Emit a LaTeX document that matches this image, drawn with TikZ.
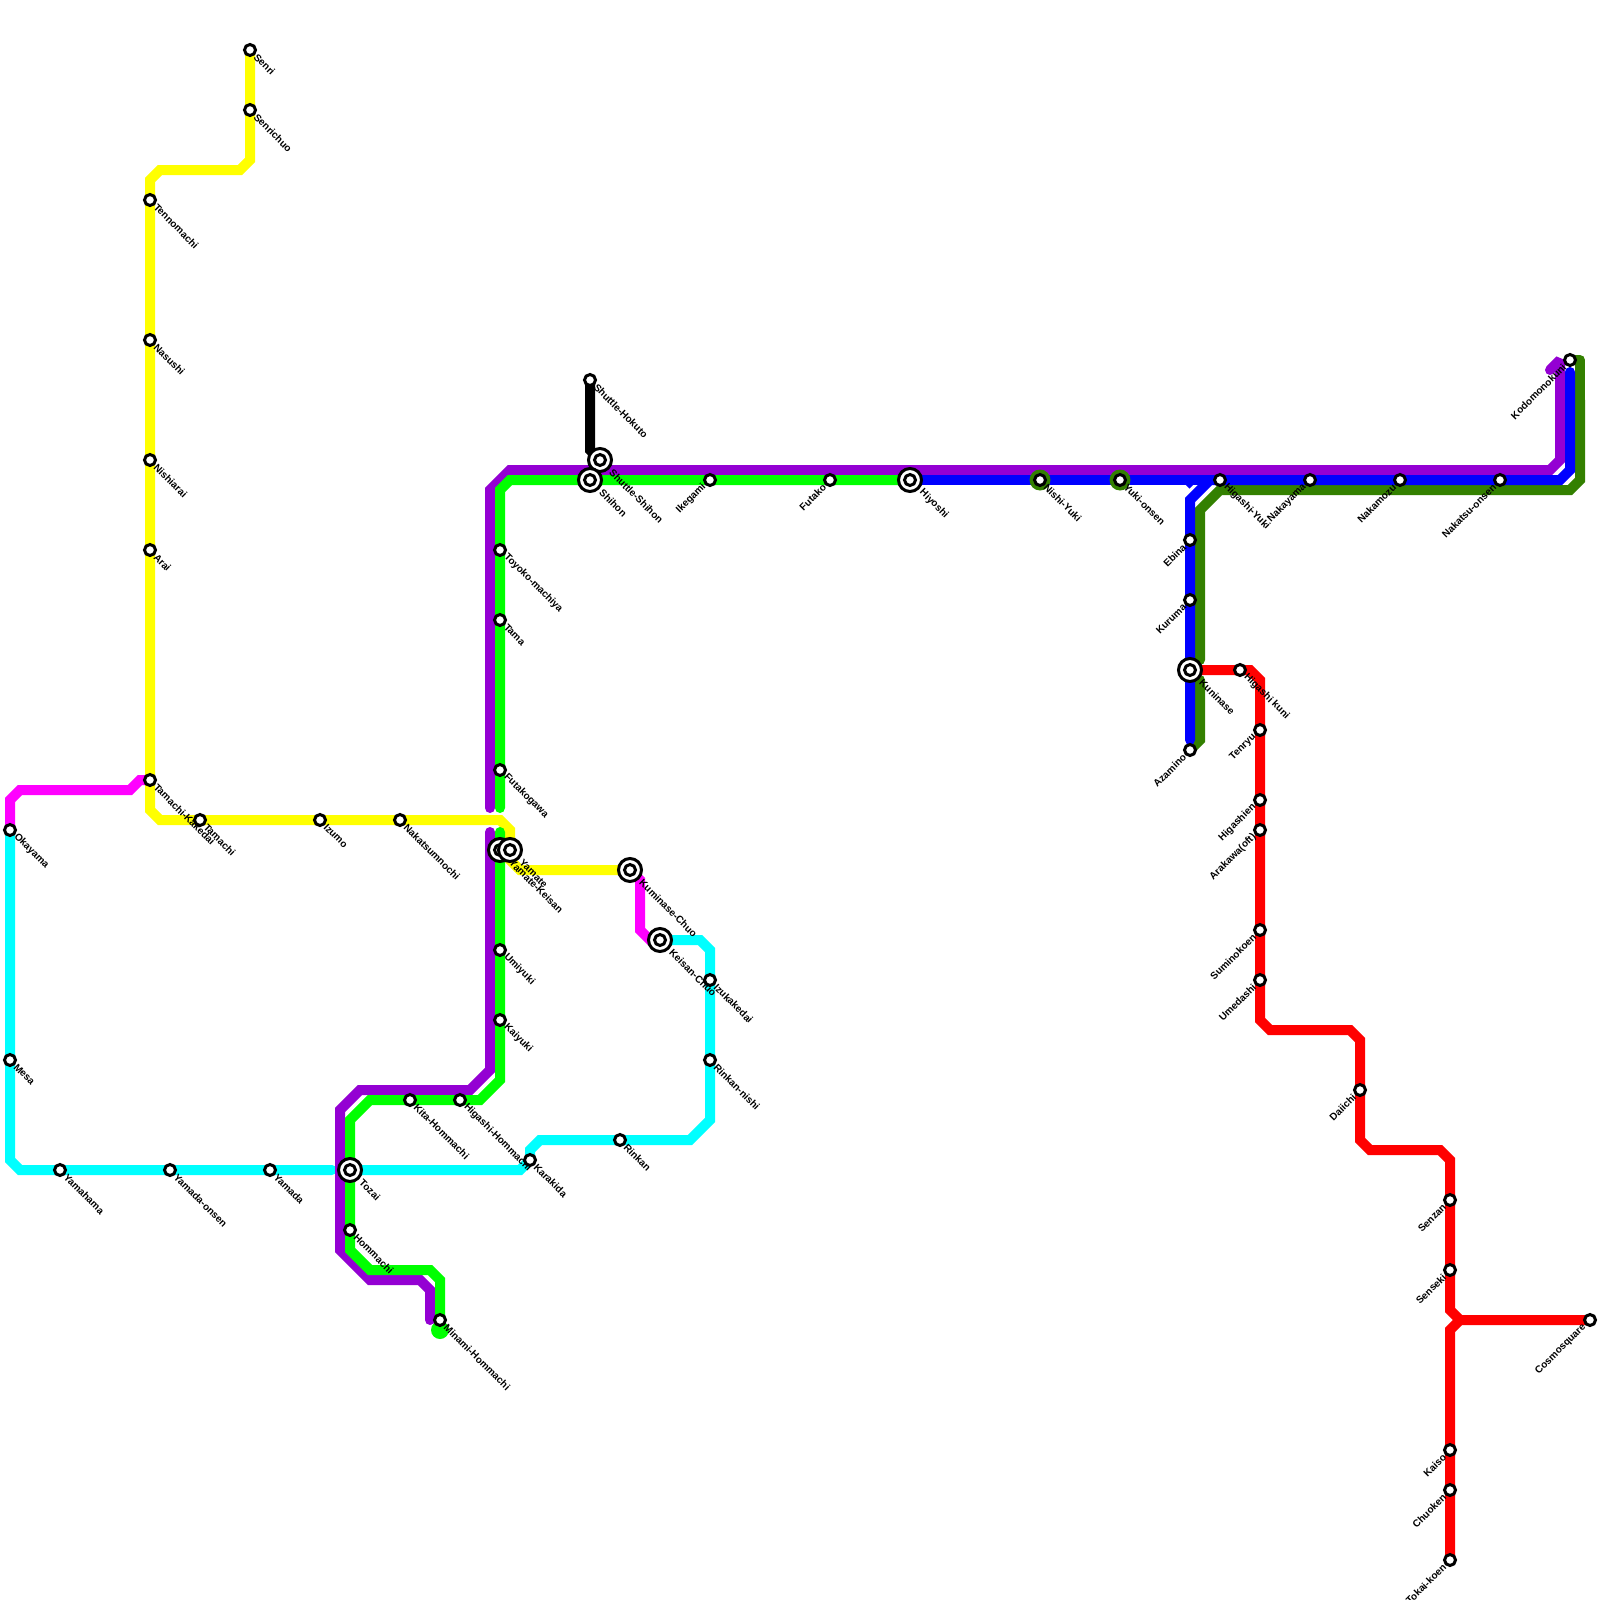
\documentclass[tikz,border=0pt]{standalone}
\usepackage{fontspec}
\setmainfont{Liberation Sans}
\usetikzlibrary{calc}
\pgfdeclarelayer{lines}
\pgfsetlayers{lines,main}
\definecolor{darkgreenline}{RGB}{51,128,0}
\definecolor{purpleline}{RGB}{148,0,211}
\definecolor{yellowline}{RGB}{255,255,0}
\definecolor{magentaline}{RGB}{255,0,255}
\definecolor{cyanline}{RGB}{0,255,255}
\definecolor{greenline}{RGB}{0,255,0}
\definecolor{blueline}{RGB}{0,0,255}
\definecolor{redline}{RGB}{255,0,0}
\tikzset{
  rail/.style={line width=10pt,line join=miter,miter limit=10,line cap=round},
  stationdot/.style={circle,draw=black,fill=white,line width=3pt,inner sep=0pt,minimum size=11pt},
  hubring/.style={circle,draw=black,fill=white,line width=3pt,inner sep=0pt,minimum size=23pt},
  hubcore/.style={circle,draw=black,fill=white,line width=3pt,inner sep=0pt,minimum size=11pt},
  halo/.style={circle,fill=darkgreenline,inner sep=0pt,outer sep=0pt,minimum size=21pt},
  rlabel/.style={font=\fontsize{10}{10}\selectfont\bfseries,text=black,rotate=-45,anchor=west,inner sep=0pt},
  llabel/.style={font=\fontsize{10}{10}\selectfont\bfseries,text=black,rotate=45,anchor=east,inner sep=0pt},
}
\newcommand{\StaR}[4]{\node[stationdot] (#1) at (#2,#3) {}; \node[rlabel] (#1-t) at ($(#1.center)+(5.5,5.5)$) {#4};}
\newcommand{\StaL}[4]{\node[stationdot] (#1) at (#2,#3) {}; \node[llabel] (#1-t) at ($(#1.center)+(-5.5,5.5)$) {#4};}
\newcommand{\HubR}[4]{\node[hubring] (#1) at (#2,#3) {}; \node[hubcore] (#1-c) at (#2,#3) {}; \node[rlabel] (#1-t) at ($(#1.center)+(11,11)$) {#4};}
\begin{document}
\begin{tikzpicture}[x=1pt,y=-1pt]
\useasboundingbox (0,0) rectangle (1600,1600);
% halos
\node[halo] (nishiyukiH) at (1040,480) {};
\node[halo] (yukionsenH) at (1120,480) {};
% stations
\StaR{okayama}{10}{830}{Okayama}
\StaR{mesa}{10}{1060}{Mesa}
\StaR{yamahama}{60}{1170}{Yamahama}
\StaR{yamadaonsen}{170}{1170}{Yamada-onsen}
\StaR{yamada}{270}{1170}{Yamada}
\HubR{tozai}{350}{1170}{Tozai}
\StaR{hommachi}{350}{1230}{Hommachi}
\StaR{minami}{440}{1320}{Minami-Hommachi}
\StaR{kita}{410}{1100}{Kita-Hommachi}
\StaR{higashihom}{460}{1100}{Higashi-Hommachi}
\StaR{karakida}{530}{1160}{Karakida}
\StaR{rinkan}{620}{1140}{Rinkan}
\StaR{rinkannishi}{710}{1060}{Rinkan-nishi}
\StaR{izukakedai}{710}{980}{Izukakedai}
\HubR{keisanchuo}{660}{940}{Keisan-Chuo}
\HubR{kuminasechuo}{630}{870}{Kuminase-Chuo}
\HubR{yamatekeisan}{500}{850}{Yamate-Keisan}
\HubR{yamate}{510}{850}{Yamate}
\StaR{umiyuki}{500}{950}{Umiyuki}
\StaR{kaiyuki}{500}{1020}{Kaiyuki}
\StaR{futakogawa}{500}{770}{Futakogawa}
\StaR{tama}{500}{620}{Tama}
\StaR{toyoko}{500}{550}{Toyoko-machiya}
\StaR{tennomachi}{150}{200}{Tennomachi}
\StaR{nasushi}{150}{340}{Nasushi}
\StaR{nishiarai}{150}{460}{Nishiarai}
\StaR{arai}{150}{550}{Arai}
\StaR{tamachikakedai}{150}{780}{Tamachi-Kakedai}
\StaR{tamachi}{200}{820}{Tamachi}
\StaR{izumo}{320}{820}{Izumo}
\StaR{nakatsumnochi}{400}{820}{Nakatsumnochi}
\StaR{senri}{250}{50}{Senri}
\StaR{senrichuo}{250}{110}{Senrichuo}
\StaR{hokuto}{590}{380}{Shuttle-Hokuto}
\HubR{shuttleshihon}{600}{460}{Shuttle-Shihon}
\HubR{shihon}{590}{480}{Shihon}
\StaL{ikegami}{710}{480}{Ikegami}
\StaL{futako}{830}{480}{Futako}
\HubR{hiyoshi}{910}{480}{Hiyoshi}
\StaR{nishiyuki}{1040}{480}{Nishi-Yuki}
\StaR{yukionsen}{1120}{480}{Yuki-onsen}
\StaR{higashiyuki}{1220}{480}{Higashi-Yuki}
\StaL{nakayama}{1310}{480}{Nakayama}
\StaL{nakamozu}{1400}{480}{Nakamozu}
\StaL{nakatsuonsen}{1500}{480}{Nakatsu-onsen}
\StaL{kodomo}{1570}{360}{Kodomonokuni}
\StaL{ebina}{1190}{540}{Ebina}
\StaL{kuruma}{1190}{600}{Kuruma}
\HubR{kuninase}{1190}{670}{Kuninase}
\StaL{azamino}{1190}{750}{Azamino}
\StaR{higashikuni}{1240}{670}{Higashi kuni}
\StaL{tenryu}{1260}{730}{Tenryu}
\StaL{higashien}{1260}{800}{Higashien}
\StaL{arakawa}{1260}{830}{Arakawa(oft)}
\StaL{suminokoen}{1260}{930}{Suminokoen}
\StaL{umedashi}{1260}{980}{Umedashi}
\StaL{daiichi}{1360}{1090}{Daiichi}
\StaL{senzan}{1450}{1200}{Senzan}
\StaL{senseki}{1450}{1270}{Senseki}
\StaL{kaiso}{1450}{1450}{Kaiso}
\StaL{chuoken}{1450}{1490}{Chuoken}
\StaL{tokaikoen}{1450}{1560}{Tokai-koen}
\StaL{cosmo}{1590}{1320}{Cosmosquare}
\begin{pgfonlayer}{lines}
\fill[white] (0,0) rectangle (1600,1600);
% yellow
\draw[rail,yellowline] (senri.center) -- (250,160) -- (240,170) -- (160,170) -- (150,180) -- (150,810) -- (160,820) -- (500,820) -- (510,830) -- (yamate.center);
\draw[rail,yellowline] (yamatekeisan.center) -- (520,870) -- (kuminasechuo.center);
% magenta
\draw[rail,magentaline] (okayama.center) -- (10,800) -- (20,790) -- (130,790) -- (140,780) -- (tamachikakedai.center);
\draw[rail,magentaline] (kuminasechuo.center) -- (640,880) -- (640,930) -- (650,940) -- (keisanchuo.center);
% cyan
\draw[rail,cyanline] (okayama.center) -- (10,1160) -- (20,1170) -- (332,1170);
\draw[rail,cyanline] (tozai.center) -- (520,1170) -- (530,1160) -- (530,1150) -- (540,1140) -- (690,1140) -- (710,1120) -- (710,950) -- (700,940) -- (keisanchuo.center);
% black
\draw[rail,black] (hokuto.center) -- (590,450) -- (shuttleshihon.center);
% dark green (under blue)
\draw[rail,darkgreenline] (azamino.center) -- (1200,740) -- (1200,680);
\draw[rail,darkgreenline] (1200,660) -- (1200,510) -- (1220,490) -- (1570,490) -- (1580,480) -- (1580,400);
\draw[rail,darkgreenline,line join=round] (1580,400) -- (1580,360) -- (kodomo.center);
% purple
\draw[rail,purpleline] (430,1320) -- (430,1290) -- (420,1280) -- (370,1280) -- (340,1250) -- (340,1110) -- (360,1090) -- (470,1090) -- (490,1070) -- (490,832);
\draw[rail,purpleline] (490,808) -- (490,490) -- (510,470) -- (1550,470) -- (1560,460) -- (1560,400);
\draw[rail,purpleline,line join=bevel] (1560,400) -- (1560,360) -- (1550,370);
% green
\fill[greenline] (440,1330) circle (9);
\draw[rail,greenline] (minami.center) -- (440,1280) -- (430,1270) -- (370,1270) -- (350,1250) -- (350,1120) -- (370,1100) -- (480,1100) -- (500,1080) -- (500,832);
\draw[rail,greenline] (500,808) -- (500,490) -- (510,480) -- (hiyoshi.center);
% blue
\draw[rail,blueline,line cap=butt] (hiyoshi.center) -- (1215,480);
\draw[rail,blueline,line cap=butt] (1188,480) -- (1193,485);
\draw[rail,blueline] (1190,740) -- (1190,500) -- (1210,480) -- (1560,480) -- (1570,470) -- (1570,372);
% red
\draw[rail,redline] (kuninase.center) -- (1250,670) -- (1260,680) -- (1260,1020) -- (1270,1030) -- (1350,1030) -- (1360,1040) -- (1360,1140) -- (1370,1150) -- (1440,1150) -- (1450,1160) -- (1450,1310) -- (1460,1320) -- (cosmo.center);
\draw[rail,redline] (tokaikoen.center) -- (1450,1330) -- (1460,1320);
\end{pgfonlayer}
\end{tikzpicture}
\end{document}
